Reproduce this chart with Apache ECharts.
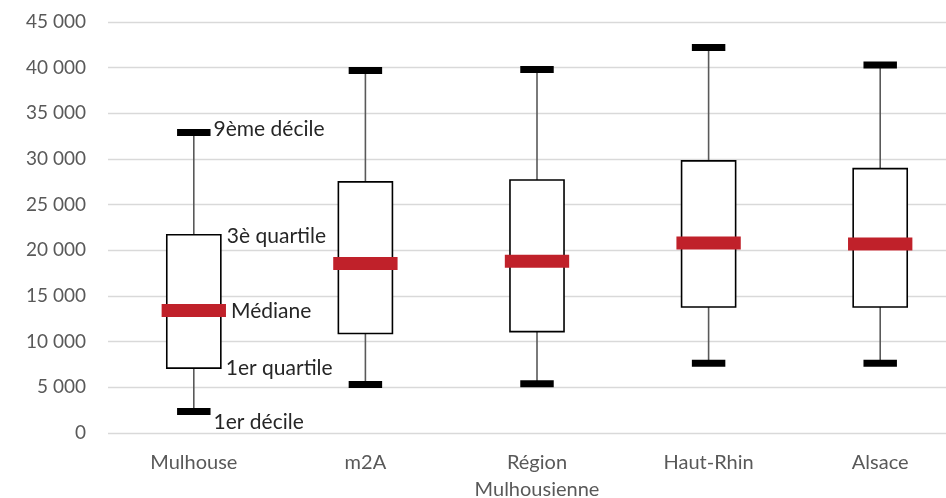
<!DOCTYPE html>
<html>
<head>
<meta charset="utf-8">
<script src="https://cdn.jsdelivr.net/npm/echarts@6/dist/echarts.min.js"></script>
<style>
  html, body { margin: 0; padding: 0; background: #fff; }
  #chart { width: 946px; height: 498px; }
</style>
</head>
<body>
<div id="chart"></div>
<script>
// categories and distribution values
const categories = ['Mulhouse', 'm2A', 'Région\nMulhousienne', 'Haut-Rhin', 'Alsace'];
const decile1 = [2350, 5300, 5400, 7650, 7650];
const quartile1 = [7100, 10900, 11100, 13800, 13800];
const median = [13400, 18550, 18800, 20800, 20700];
const quartile3 = [21700, 27500, 27700, 29800, 28950];
const decile9 = [32900, 39700, 39800, 42200, 40300];

// annotation texts for the first box
const noteTexts = ['9ème décile', '3è quartile', 'Médiane', '1er quartile', '1er décile'];

const RED = '#c0212a';
const FONT = 'Lato';

function renderBox(params, api) {
  let x = api.value(0);
  let pD1 = api.coord([x, api.value(1)]);
  let pQ1 = api.coord([x, api.value(2)]);
  let pMed = api.coord([x, api.value(3)]);
  let pQ3 = api.coord([x, api.value(4)]);
  let pD9 = api.coord([x, api.value(5)]);
  let band = api.size([1, 0])[0];
  let cx = pMed[0];
  let boxW = band * 0.315;
  let capW = band * 0.195;
  let medW = band * 0.375;
  let children = [
    // whiskers
    { type: 'line', shape: { x1: cx, y1: pD9[1], x2: cx, y2: pQ3[1] }, style: { stroke: '#595959', lineWidth: 1.6 } },
    { type: 'line', shape: { x1: cx, y1: pQ1[1], x2: cx, y2: pD1[1] }, style: { stroke: '#595959', lineWidth: 1.6 } },
    // box
    { type: 'rect', shape: { x: cx - boxW / 2, y: pQ3[1], width: boxW, height: pQ1[1] - pQ3[1] },
      style: { fill: '#fff', stroke: '#000', lineWidth: 1.6 } },
    // caps
    { type: 'rect', shape: { x: cx - capW / 2, y: pD9[1] - 3.5, width: capW, height: 7 }, style: { fill: '#000' } },
    { type: 'rect', shape: { x: cx - capW / 2, y: pD1[1] - 3.5, width: capW, height: 7 }, style: { fill: '#000' } },
    // median
    { type: 'rect', shape: { x: cx - medW / 2, y: pMed[1] - 6.5, width: medW, height: 13 }, style: { fill: RED } }
  ];
  if (params.dataIndex === 0) {
    let notes = [
      [noteTexts[0], cx + capW / 2 + 3, pD9[1] - 3],
      [noteTexts[1], cx + boxW / 2 + 6, pQ3[1] + 1],
      [noteTexts[2], cx + medW / 2 + 5, pMed[1] + 1],
      [noteTexts[3], cx + boxW / 2 + 5, pQ1[1]],
      [noteTexts[4], cx + capW / 2 + 3, pD1[1] + 11]
    ];
    for (let n of notes) {
      children.push({
        type: 'text',
        style: { text: n[0], x: n[1], y: n[2], verticalAlign: 'middle', align: 'left',
          fill: '#262626', font: '21px ' + FONT }
      });
    }
  }
  return { type: 'group', children: children };
}

const seriesData = categories.map((c, i) => [i, decile1[i], quartile1[i], median[i], quartile3[i], decile9[i]]);

const chart = echarts.init(document.getElementById('chart'));
chart.setOption({
  animation: false,
  grid: { left: 108, right: -20, top: 22, bottom: 65, containLabel: false, outerBoundsMode: 'none' },
  xAxis: {
    type: 'category',
    data: categories,
    axisLine: { show: false },
    axisTick: { show: false },
    axisLabel: { color: '#595959', fontFamily: FONT, fontSize: 20, margin: 16, lineHeight: 27, interval: 0 }
  },
  yAxis: {
    type: 'value',
    min: 0,
    max: 45000,
    interval: 5000,
    axisLine: { show: false },
    axisTick: { show: false },
    splitLine: { lineStyle: { color: '#d9d9d9', width: 1.3 } },
    axisLabel: {
      color: '#595959', fontFamily: FONT, fontSize: 19, margin: 22,
      formatter: v => String(v).replace(/\B(?=(\d{3})+(?!\d))/g, ' ')
    }
  },
  series: [{
    type: 'custom',
    renderItem: renderBox,
    encode: { x: 0, y: [1, 2, 3, 4, 5] },
    data: seriesData
  }]
});
</script>
</body>
</html>
